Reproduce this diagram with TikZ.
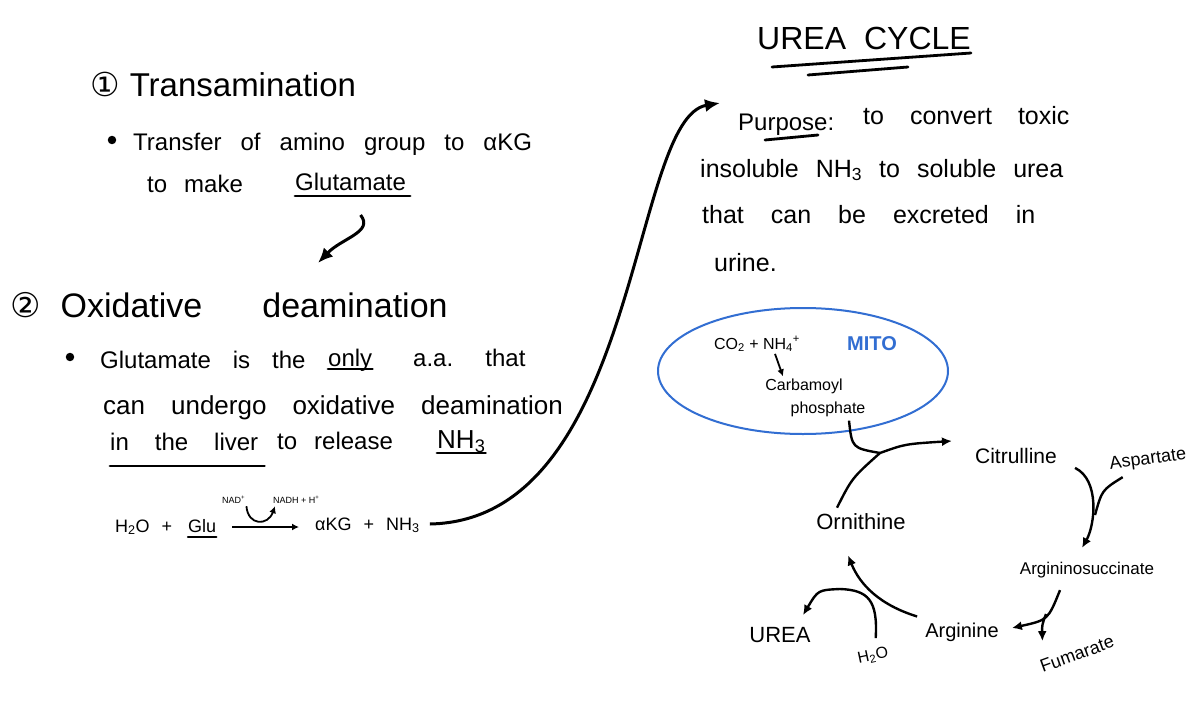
\documentclass[tikz,border=0pt]{standalone}
\usepackage{fontspec}
\setmainfont{Liberation Sans}
\newfontfamily\symfont{DejaVu Sans}
\usetikzlibrary{arrows.meta}
\usetikzlibrary{shapes.geometric}
\definecolor{mitoblue}{RGB}{50,110,210}
\newcommand{\wsp}[1]{\setlength{\spaceskip}{#1}}

\begin{document}
\begin{tikzpicture}[x=1pt,y=-1pt]
  \tikzset{head/.style={anchor=base west, inner sep=0pt, font=\fontsize{33}{36}\selectfont\wsp{24pt}} }
  \tikzset{body/.style={anchor=base west, inner sep=0pt, font=\fontsize{24}{28}\selectfont\wsp{17pt}} }
  \tikzset{eqn/.style={anchor=base west, inner sep=0pt, font=\fontsize{18}{20}\selectfont\wsp{12pt}} }
  \tikzset{tiny/.style={anchor=base west, inner sep=0pt, font=\fontsize{9}{11}\selectfont} }
  \tikzset{small/.style={inner sep=2pt, font=\fontsize{16}{18}\selectfont} }
  \tikzset{cyc/.style={inner sep=4pt, font=\fontsize{20}{22}\selectfont} }
  \tikzset{dot/.style={circle, fill, inner sep=3pt} }
  \tikzset{uline/.style={line width=2.8pt, line cap=round} }
  \tikzset{arr/.style={->, >={Latex[length=15pt,width=13pt]}, line width=3pt} }
  \tikzset{arrs/.style={->, >={Latex[length=7pt,width=7pt]}, line width=1.8pt} }
  \tikzset{arrc/.style={->, >={Latex[length=10pt,width=9pt]}, line width=2.4pt} }
  \tikzset{linec/.style={line width=2.4pt} }

  \useasboundingbox[fill=white] (0,0) rectangle (1200,720);

  % transamination
  \node[head] (trans) at (90,96) {{\symfont ①}\hspace{10pt}Transamination};
  \node[dot] (b1) at (112,140) {};
  \node[body, font=\fontsize{24}{28}\selectfont\wsp{19pt}] (l1) at (133,150) {Transfer of amino group to αKG};
  \node[body] (l2) at (147,192) {to make};
  \node[body] (glut) at (295,190) {Glutamate};
  \draw[uline] ([yshift=-6pt]glut.base west) -- ([xshift=4pt,yshift=-6pt]glut.base east);

  % oxidative deamination
  \node[head, font=\fontsize{34}{38}\selectfont\wsp{60pt}] (ox) at (10,317) {{\symfont ②}\hspace{20pt}Oxidative deamination};
  \coordinate (oxtop) at (318,263);
  \draw[arr] ([xshift=10pt,yshift=-25pt]glut.base) .. controls (374,232) and (342,238) .. (oxtop);

  \node[dot] (b2) at (70,357) {};
  \node[body, font=\fontsize{24}{28}\selectfont\wsp{22pt}] (l3) at (100,368) {Glutamate is the};
  \node[body] (only) at (328,366) {only};
  \draw[uline] ([yshift=-3pt]only.base west) -- ([yshift=-3pt]only.base east);
  \node[body, font=\fontsize{24}{28}\selectfont\wsp{30pt}] (l3b) at (413,366) {a.a. that};
  \node[body, font=\fontsize{26}{30}\selectfont\wsp{26pt}] (l4) at (103,414) {can undergo oxidative deamination};
  \node[body, font=\fontsize{24}{28}\selectfont\wsp{26pt}] (liver) at (110,450) {in the liver};
  \draw[uline] ([yshift=-16pt]liver.base west) -- ([xshift=6pt,yshift=-16pt]liver.base east);
  \node[body] (rel) at (277,449) {to release};
  \node[body, font=\fontsize{26}{30}\selectfont] (nh3) at (437,448) {NH\textsubscript{3}};
  \draw[uline] ([yshift=-5pt]nh3.base west) -- ([yshift=-5pt]nh3.base east);

  % equation
  \node[eqn] (water) at (115,532) {H\textsubscript{2}O +};
  \node[eqn] (glu) at (188,532) {Glu};
  \draw[line width=2.2pt, line cap=round] ([yshift=-5pt]glu.base west) -- ([yshift=-5pt]glu.base east);
  \node[eqn] (akg) at (315,530) {αKG + NH\textsubscript{3}};
  \node[tiny] (nad) at (222,503) {NAD\textsuperscript{+}};
  \node[tiny] (nadh) at (273,503) {NADH + H\textsuperscript{+}};
  \draw[arrs] ([xshift=16pt,yshift=5pt]glu.base east) -- ([xshift=-16pt,yshift=3pt]akg.base west);
  \draw[arrs] ([xshift=1pt,yshift=-3pt]nad.south east) .. controls (248,526) and (268,526) .. ([xshift=2pt,yshift=-3pt]nadh.south west);

  % urea cycle text
  \node[head, font=\fontsize{32}{36}\selectfont\wsp{18pt}] (title) at (757,49) {UREA CYCLE};
  \draw[uline] ([xshift=15pt,yshift=-18pt]title.base west) -- ([xshift=0pt,yshift=-4pt]title.base east);
  \draw[uline] ([xshift=51pt,yshift=-26pt]title.base west) -- ([xshift=151pt,yshift=-18pt]title.base west);

  \node[body] (purp) at (738,130) {Purpose:};
  \draw[uline] ([xshift=27pt,yshift=-10pt]purp.base west) -- ([xshift=80pt,yshift=-5pt]purp.base west);
  \node[body, font=\fontsize{25}{28}\selectfont\wsp{26pt}] (p1) at (863,124) {to convert toxic};
  \node[body, font=\fontsize{25}{28}\selectfont\wsp{17pt}] (p2) at (700,177) {insoluble NH\textsubscript{3} to soluble urea};
  \node[body, font=\fontsize{25}{28}\selectfont\wsp{27pt}] (p3) at (702,223) {that can be excreted in};
  \node[body, font=\fontsize{25}{28}\selectfont] (p4) at (714,271) {urine.};

  \draw[arr] ([xshift=10pt,yshift=6pt]akg.base east) .. controls (640,520) and (630,118) .. ([xshift=-18pt,yshift=27pt]purp.base west);

  % mitochondria
  \node[draw=mitoblue, line width=2pt, ellipse, minimum width=290pt, minimum height=126pt] (mito) at (803,371) {};
  \node[small] (co2) at (757,344) {CO\textsubscript{2} + NH\textsubscript{4}\textsuperscript{+}};
  \node[small] (carb) at (804,386) {Carbamoyl};
  \node[small] (phos) at (828,409) {phosphate};
  \node[font=\fontsize{20}{22}\selectfont\bfseries, text=mitoblue] (mitolbl) at (872,344) {MITO};
  \draw[arrs] ([xshift=18pt]co2.south) -- ([xshift=-21pt]carb.north);

  % cycle
  \node[cyc, font=\fontsize{22}{24}\selectfont] (orn) at (861,522) {Ornithine};
  \node[cyc, font=\fontsize{21}{24}\selectfont] (cit) at (1016,456) {Citrulline};
  \node[cyc, rotate=8, font=\fontsize{18}{20}\selectfont] (asp) at (1148,460) {Aspartate};
  \node[cyc, font=\fontsize{17}{20}\selectfont] (argsuc) at (1087,570) {Argininosuccinate};
  \node[cyc] (argn) at (962,632) {Arginine};
  \node[cyc, rotate=20, font=\fontsize{18}{20}\selectfont] (fum) at (1077,654) {Fumarate};
  \node[cyc, font=\fontsize{22}{24}\selectfont] (urea) at (780,635) {UREA};
  \node[cyc, rotate=12, font=\fontsize{16}{18}\selectfont] (h2o) at (873,656) {H\textsubscript{2}O};

  \coordinate (j1) at (880,453);
  \coordinate (j2) at (1095,515);
  \coordinate (j3) at (1046,614);
  \coordinate (j4) at (840,589);

  \draw[arrc] ([xshift=-24pt,yshift=2pt]orn.north) .. controls (852,478) .. (j1) .. controls (905,444) .. ([xshift=-19pt,yshift=15pt]cit.west);
  \draw[linec] ([xshift=21pt,yshift=-2pt]phos.south) .. controls (852,448) .. (j1);
  \draw[arrc] ([xshift=14pt]cit.south east) .. controls (1100,480) and (1095,525) .. ([xshift=-5pt,yshift=10pt]argsuc.north);
  \draw[linec] ([xshift=-27pt,yshift=-5pt]asp.south) .. controls (1102,490) .. (j2);
  \draw[arrc] ([xshift=-27pt,yshift=-8pt]argsuc.south) .. controls (1048,620) .. ([xshift=9pt,yshift=4pt]argn.east);
  \draw[arrc] (j3) .. controls (1042,625) .. ([xshift=-31pt,yshift=3pt]fum.north);
  \draw[arrc] ([xshift=-4pt,yshift=2pt]argn.north west) .. controls (880,605) and (860,585) .. ([xshift=-13pt,yshift=-21pt]orn.south);
  \draw[arrc] ([xshift=5pt,yshift=7pt]h2o.north) .. controls (878,600) and (868,590) .. (j4) .. controls (818,590) .. ([xshift=23pt,yshift=8pt]urea.north);
\end{tikzpicture}
\end{document}
